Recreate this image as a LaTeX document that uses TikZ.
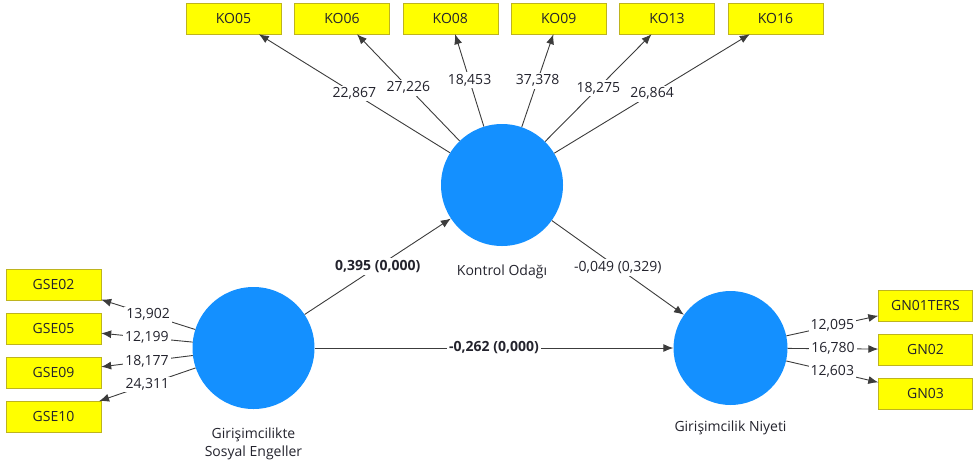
\documentclass[tikz,border=0pt]{standalone}
\usepackage{fontspec}
\setmainfont{Open Sans}
\usepackage{tikz}
\usetikzlibrary{arrows.meta, positioning}
\definecolor{lvblue}{RGB}{20,144,255}
\definecolor{indyellow}{RGB}{255,255,0}
\definecolor{indborder}{RGB}{190,180,30}
\definecolor{edgegray}{RGB}{60,60,60}
\definecolor{txtgray}{RGB}{35,35,45}

\begin{document}
\begin{tikzpicture}[x=1pt, y=-1pt,
            style = {font=\fontsize{14}{18}\selectfont, text=txtgray},
            lv/.style = {circle, fill=lvblue, minimum size=122pt, inner sep=0pt},
            ind/.style = {draw=indborder, fill=indyellow, minimum width=95pt, minimum height=31pt, inner sep=0pt},
            lnk/.style = {draw=edgegray, line width=0.9pt, -{Latex[length=10pt, width=8pt]}},
            lbl/.style = {fill=white, inner sep=2pt},
            blbl/.style = {lbl, font=\fontsize{14}{18}\selectfont\bfseries}]
            \useasboundingbox (0,0) rectangle (973,464);
            \node (ko) [lv] at (502,185) {};
            \node (gse) [lv] at (253.5,348) {};
            \node (gn) [lv, minimum size=114pt] at (730.5,348) {};
            \node (kol) [below=18pt of ko, inner sep=0pt] {Kontrol Odağı};
            \node (gsel) [below=18pt of gse, inner sep=0pt, align=center] {Girişimcilikte\\Sosyal Engeller};
            \node (gnl) [below=15pt of gn, inner sep=0pt] {Girişimcilik Niyeti};
            \node (ko05) [ind] at (233.5,18.5) {KO05};
            \node (ko06) [ind, right=13pt of ko05] {KO06};
            \node (ko08) [ind, right=13pt of ko06] {KO08};
            \node (ko09) [ind, right=13pt of ko08] {KO09};
            \node (ko13) [ind, right=13pt of ko09] {KO13};
            \node (ko16) [ind, right=13pt of ko13] {KO16};
            \node (gse02) [ind] at (53.5,284.5) {GSE02};
            \node (gse05) [ind, below=12.7pt of gse02] {GSE05};
            \node (gse09) [ind, below=12.7pt of gse05] {GSE09};
            \node (gse10) [ind, below=12.7pt of gse09] {GSE10};
            \node (gn01) [ind, minimum width=94pt] at (925.5,305.5) {GN01TERS};
            \node (gn02) [ind, minimum width=94pt, below=12.5pt of gn01] {GN02};
            \node (gn03) [ind, minimum width=94pt, below=12.5pt of gn02] {GN03};
            \draw[lnk] (ko) -- node[lbl] {22,867} (ko05);
            \draw[lnk] (ko) -- node[lbl] {27,226} (ko06);
            \draw[lnk] (ko) -- node[lbl] {18,453} (ko08);
            \draw[lnk] (ko) -- node[lbl] {37,378} (ko09);
            \draw[lnk] (ko) -- node[lbl] {18,275} (ko13);
            \draw[lnk] (ko) -- node[lbl] {26,864} (ko16);
            \draw[lnk] (gse) -- node[lbl] {13,902} (gse02);
            \draw[lnk] (gse) -- node[lbl] {12,199} (gse05);
            \draw[lnk] (gse) -- node[lbl] {18,177} (gse09);
            \draw[lnk] (gse) -- node[lbl] {24,311} (gse10);
            \draw[lnk] (gn) -- node[lbl] {12,095} (gn01);
            \draw[lnk] (gn) -- node[lbl] {16,780} (gn02);
            \draw[lnk] (gn) -- node[lbl] {12,603} (gn03);
            \draw[lnk] (gse) -- node[blbl] {0,395 (0,000)} (ko);
            \draw[lnk] (ko) -- node[lbl] {-0,049 (0,329)} (gn);
            \draw[lnk] (gse) -- node[blbl] {-0,262 (0,000)} (gn);
\end{tikzpicture}
\end{document}
